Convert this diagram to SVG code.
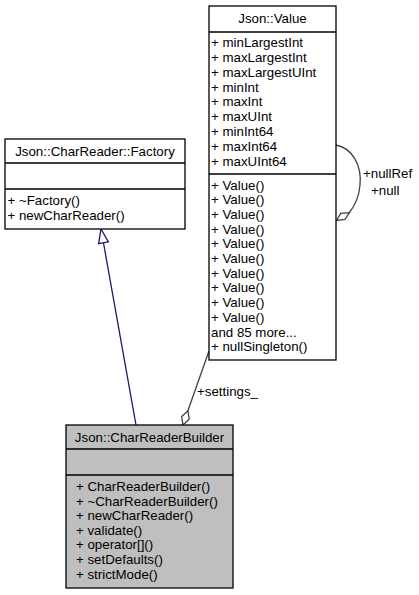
<svg xmlns="http://www.w3.org/2000/svg" width="419" height="595" viewBox="0 0 419 595">
<style>
text{font-family:"Liberation Sans",Arial,Helvetica,sans-serif;font-size:13.3px;fill:#000}
.box{fill:#fff;stroke:#000;stroke-width:1.3}
.sep{stroke:#000;stroke-width:1.3}
.c{text-anchor:middle}
</style>
<rect width="419" height="595" fill="#fff"/>
<g id="connectors">
  <path d="M136,425 L103.5,243" fill="none" stroke="#191970" stroke-width="1.3"/>
  <polygon points="101,229 108.4,241.9 98.6,243.7" fill="#fff" stroke="#191970" stroke-width="1.3"/>
  <path d="M209,351 L187.9,410.8" fill="none" stroke="#404040" stroke-width="1.3"/>
  <polygon points="183,425 181.7,416.6 187.9,410.8 189.2,419.2" fill="#fff" stroke="#404040" stroke-width="1.3"/>
  <text x="197" y="396">+settings_</text>
  <path d="M336,145 C352,148 362,165 360,185 C359,198 354,207 349,213" fill="none" stroke="#404040" stroke-width="1.3"/>
  <polygon points="336.5,220.5 340.7,213.3 349.3,212.7 345,219.5" fill="#fff" stroke="#404040" stroke-width="1.3"/>
  <text x="363" y="178">+nullRef</text>
  <text x="371" y="194.5">+null</text>
</g>
<g id="node-value">
  <rect class="box" x="209" y="6" width="127" height="354"/>
  <line class="sep" x1="209" y1="32" x2="336" y2="32"/>
  <line class="sep" x1="209" y1="174" x2="336" y2="174"/>
  <text class="c" x="272.5" y="23">Json::Value</text>
  <text x="211" y="47">+ minLargestInt</text>
  <text x="211" y="62">+ maxLargestInt</text>
  <text x="211" y="76.5">+ maxLargestUInt</text>
  <text x="211" y="91.5">+ minInt</text>
  <text x="211" y="106">+ maxInt</text>
  <text x="211" y="121">+ maxUInt</text>
  <text x="211" y="136">+ minInt64</text>
  <text x="211" y="151">+ maxInt64</text>
  <text x="211" y="166">+ maxUInt64</text>
  <text x="211" y="189.5">+ Value()</text>
  <text x="211" y="204.2">+ Value()</text>
  <text x="211" y="218.9">+ Value()</text>
  <text x="211" y="233.6">+ Value()</text>
  <text x="211" y="248.3">+ Value()</text>
  <text x="211" y="263">+ Value()</text>
  <text x="211" y="277.7">+ Value()</text>
  <text x="211" y="292.4">+ Value()</text>
  <text x="211" y="307.1">+ Value()</text>
  <text x="211" y="321.8">+ Value()</text>
  <text x="211" y="336.5">and 85 more...</text>
  <text x="211" y="351.2">+ nullSingleton()</text>
</g>
<g id="node-factory">
  <rect class="box" x="5" y="139" width="180" height="90"/>
  <line class="sep" x1="5" y1="163" x2="185" y2="163"/>
  <line class="sep" x1="5" y1="189" x2="185" y2="189"/>
  <text class="c" x="95" y="156">Json::CharReader::Factory</text>
  <text x="7.5" y="205">+ ~Factory()</text>
  <text x="7.5" y="219.5">+ newCharReader()</text>
</g>
<g id="node-builder">
  <rect class="box" x="66" y="425" width="167" height="163" style="fill:#bfbfbf"/>
  <line class="sep" x1="66" y1="449" x2="233" y2="449"/>
  <line class="sep" x1="66" y1="475" x2="233" y2="475"/>
  <text class="c" x="149.5" y="442">Json::CharReaderBuilder</text>
  <text x="76" y="491">+ CharReaderBuilder()</text>
  <text x="76" y="505.6">+ ~CharReaderBuilder()</text>
  <text x="76" y="520.2">+ newCharReader()</text>
  <text x="76" y="534.8">+ validate()</text>
  <text x="76" y="549.4">+ operator[]()</text>
  <text x="76" y="564">+ setDefaults()</text>
  <text x="76" y="578.6">+ strictMode()</text>
</g>
</svg>
